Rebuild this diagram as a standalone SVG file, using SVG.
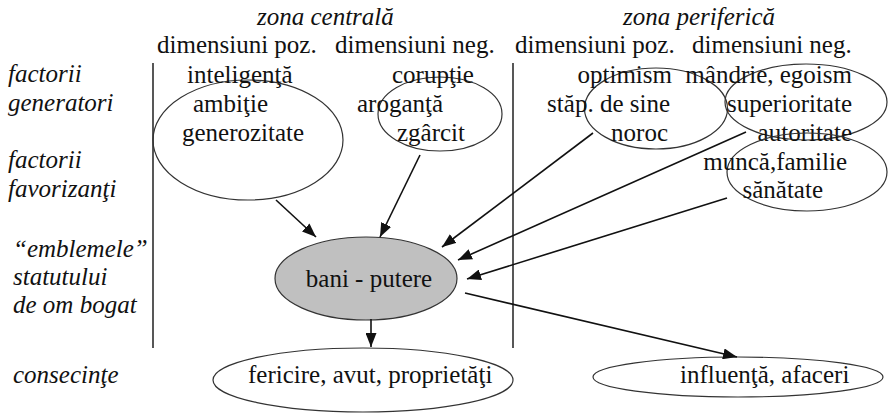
<svg xmlns="http://www.w3.org/2000/svg" width="888" height="415" viewBox="0 0 888 415" font-family="'Liberation Serif', 'DejaVu Serif', serif">
<defs>
<style>
text{font-family:'Liberation Serif','DejaVu Serif',serif;font-size:25px;fill:#111}
.i{font-style:italic}
.r{text-anchor:end}
.e{fill:none;stroke:#333;stroke-width:1.2}
.c line{stroke:#111;stroke-width:1.6}
.v{stroke:#111;stroke-width:1.4}
</style>
<marker id="ah" markerWidth="14" markerHeight="11" refX="14" refY="5.5" orient="auto" markerUnits="userSpaceOnUse"><path d="M0,0 L14,5.5 L0,11 z" fill="#111"/></marker>
</defs>
<rect width="888" height="415" fill="#fff"/>

<g id="headers">
<text class="i" x="257" y="25">zona centrală</text>
<text class="i" x="623" y="25">zona periferică</text>
<text x="157" y="53">dimensiuni poz.</text>
<text x="335" y="53">dimensiuni neg.</text>
<text x="515" y="53">dimensiuni poz.</text>
<text x="692" y="53">dimensiuni neg.</text>
</g>

<g id="row-labels">
<text class="i" x="8" y="82">factorii</text>
<text class="i" x="8" y="111">generatori</text>
<text class="i" x="8" y="168">factorii</text>
<text class="i" x="8" y="197">favorizanţi</text>
<text class="i" x="13" y="257">“emblemele”</text>
<text class="i" x="13" y="285">statutului</text>
<text class="i" x="13" y="313">de om bogat</text>
<text class="i" x="13" y="383">consecinţe</text>
</g>

<g id="dividers">
<line class="v" x1="153" y1="63" x2="153" y2="348"/>
<line class="v" x1="513" y1="63" x2="513" y2="348"/>
</g>

<g id="central-pos">
<ellipse class="e" cx="248" cy="140" rx="95" ry="60"/>
<text x="187" y="83">inteligenţă</text>
<text x="193" y="112">ambiţie</text>
<text x="182" y="141">generozitate</text>
</g>

<g id="central-neg">
<ellipse class="e" cx="440" cy="114" rx="62" ry="37"/>
<text x="392" y="83">corupţie</text>
<text x="357" y="112">aroganţă</text>
<text x="397" y="141">zgârcit</text>
</g>

<g id="periph-pos">
<ellipse class="e" cx="656" cy="108.5" rx="71.5" ry="40.5"/>
<text class="r" x="672" y="83">optimism</text>
<text class="r" x="670" y="112">stăp. de sine</text>
<text class="r" x="668" y="141">noroc</text>
</g>

<g id="periph-neg">
<ellipse class="e" cx="806" cy="102" rx="81" ry="38"/>
<text class="r" x="852" y="83">mândrie, egoism</text>
<text class="r" x="852" y="112">superioritate</text>
<text class="r" x="852" y="141">autoritate</text>
</g>

<g id="periph-fav">
<ellipse class="e" cx="807" cy="172" rx="80" ry="39"/>
<text class="r" x="847" y="170">muncă,familie</text>
<text class="r" x="823" y="198">sănătate</text>
</g>

<g id="bani-putere">
<ellipse cx="366" cy="278.5" rx="91" ry="41.5" fill="#c0c0c0" stroke="#333" stroke-width="1.2"/>
<text x="369" y="287" text-anchor="middle">bani - putere</text>
</g>

<g id="consecinte-1">
<ellipse class="e" cx="363" cy="380" rx="150" ry="32"/>
<text x="248" y="383">fericire, avut, proprietăţi</text>
</g>

<g id="consecinte-2">
<ellipse class="e" cx="738" cy="377" rx="145" ry="20"/>
<text x="680" y="383">influenţă, afaceri</text>
</g>

<g class="c" id="connectors">
<line x1="276" y1="200" x2="316" y2="237" marker-end="url(#ah)"/>
<line x1="420" y1="155" x2="380" y2="237" marker-end="url(#ah)"/>
<line x1="593" y1="133" x2="442" y2="247" marker-end="url(#ah)"/>
<line x1="746" y1="132" x2="458" y2="260" marker-end="url(#ah)"/>
<line x1="727" y1="198" x2="467" y2="279" marker-end="url(#ah)"/>
<line x1="371" y1="319" x2="371" y2="347" marker-end="url(#ah)"/>
<line x1="465" y1="293" x2="737" y2="357" marker-end="url(#ah)"/>
</g>
</svg>
